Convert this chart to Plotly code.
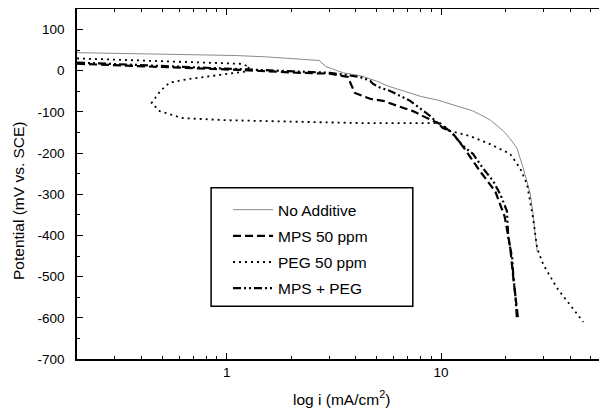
import plotly.graph_objects as go

# ---- data (current density mA/cm^2, potential mV vs SCE) ----
no_add_i = [0.2, 0.5, 1.1, 1.5, 2.2, 2.7, 2.9, 3.5, 4.2, 5.0, 5.65, 6.64, 8.0, 9.6,
            11.9, 14.0, 15.7, 17.0, 19.5, 21.0, 22.6, 24.2, 26.1, 26.9, 27.5, 28.1]
no_add_mv = [44, 41, 37, 34, 29, 25, 10, -5, -12, -25, -37, -49, -62, -71,
             -85, -97, -110, -120, -146, -165, -188, -237, -300, -349, -400, -440]

mps_i = [0.2, 0.49, 1.15, 2.19, 3.03, 3.67, 3.84, 3.96, 4.66, 5.36, 6.23, 7.39, 8.6, 9.89,
         11.3, 12.9, 15.2, 17.9, 19.8, 21.0, 21.7, 22.4, 22.9]
mps_mv = [17, 10, 2, -5, -7, -15, -37, -54, -68, -73, -85, -98, -115, -129,
          -151, -190, -244, -293, -354, -427, -500, -561, -605]

peg_i = [0.2, 0.49, 1.15, 1.28, 1.21, 1.03, 0.85, 0.66, 0.54, 0.49, 0.446, 0.486, 0.62,
         1.0, 2.19, 4.18, 9.89, 11.0, 13.7, 16.9, 21.0, 23.4, 25.2, 26.1, 26.9, 28.1,
         30.0, 34.9, 40.1, 46.1]
peg_mv = [30, 24, 17, 10, -2, -7, -12, -20, -29, -49, -78, -98, -115,
          -120, -124, -127, -127, -146, -159, -178, -202, -237, -276, -317, -359, -432,
          -471, -529, -568, -610]

mpspeg_i = [0.2, 0.49, 1.15, 2.19, 3.03, 4.18, 4.66, 4.82, 5.2, 5.78, 7.17, 8.9, 10.2,
            11.0, 12.7, 14.1, 15.7, 17.5, 18.9, 20.3, 20.6, 21.5, 21.7, 22.2, 22.6]
mpspeg_mv = [20, 12, 5, -2, -5, -15, -24, -32, -41, -49, -73, -110, -139,
             -146, -183, -202, -237, -268, -300, -341, -407, -456, -495, -544, -602]

names = ["No Additive", "MPS 50 ppm", "PEG 50 ppm", "MPS + PEG"]

y_ticks = [-700, -600, -500, -400, -300, -200, -100, 0, 100]
y_minor = [-650, -550, -450, -350, -250, -150, -50, 50]
x_ticks = [1, 10]
x_minor = [0.2, 0.3, 0.4, 0.5, 0.6, 0.7, 0.8, 0.9, 2, 3, 4, 5, 6, 7, 8, 9,
           20, 30, 40, 50]

FONT = "Arial, Liberation Sans, Helvetica, sans-serif"

fig = go.Figure()
fig.add_trace(go.Scatter(x=no_add_i, y=no_add_mv, mode="lines", name=names[0],
                         legendgroup="a",
                         line=dict(color="#8a8a8a", width=1)))
fig.add_trace(go.Scatter(x=mps_i, y=mps_mv, mode="lines", name=names[1],
                         legendgroup="b",
                         line=dict(color="black", width=2.2, dash="8px,4px")))
fig.add_trace(go.Scatter(x=peg_i, y=peg_mv, mode="lines", name=names[2],
                         legendgroup="c",
                         line=dict(color="black", width=1.8, dash="2px,4px")))
fig.add_trace(go.Scatter(x=mpspeg_i, y=mpspeg_mv, mode="lines", name=names[3],
                         legendgroup="d",
                         line=dict(color="black", width=2.2,
                                   dash="8px,3px,2px,3px,2px,3px")))

axis_common = dict(showline=True, linecolor="black", linewidth=1.5, mirror="ticks",
                   ticks="inside", tickcolor="black", tickwidth=1.2, ticklen=6,
                   showgrid=False, zeroline=False,
                   tickfont=dict(family=FONT, size=13.5, color="black"))

fig.update_xaxes(type="log", range=[-0.699, 1.765],
                 tickmode="array", tickvals=x_ticks, ticktext=["1", "10"],
                 minor=dict(tickmode="array", tickvals=x_minor, ticks="inside",
                            ticklen=3, tickcolor="black", tickwidth=1, showgrid=False),
                 ticklabelstandoff=0,
                 **axis_common)
fig.update_yaxes(range=[-700, 150],
                 tickmode="array", tickvals=y_ticks,
                 ticktext=[str(v) for v in y_ticks],
                 minor=dict(tickmode="array", tickvals=y_minor, ticks="inside",
                            ticklen=3, tickcolor="black", tickwidth=1, showgrid=False),
                 ticklabelstandoff=8,
                 **axis_common)

# the page body has an 8px default margin, so the figure is sized to fit inside it
fig.update_layout(
    width=599, height=405,
    margin=dict(l=69, r=2, t=1, b=54, autoexpand=False),
    paper_bgcolor="white", plot_bgcolor="white",
    font=dict(family=FONT, color="black"),
    legend=dict(x=0.286, y=0.474, xanchor="left", yanchor="top",
                bgcolor="rgba(0,0,0,0)", borderwidth=0,
                font=dict(family=FONT, size=15.5, color="black"),
                tracegroupgap=3, itemwidth=40),
    shapes=[dict(type="rect", xref="paper", yref="paper",
                 x0=0.254, x1=0.636, y0=0.151, y1=0.489,
                 line=dict(color="black", width=1.5), fillcolor="white",
                 layer="below")],
    annotations=[
        dict(text="log i (mA/cm<sup>2</sup>)", xref="paper", yref="paper",
             x=0.5, y=-0.076, xanchor="center", yanchor="top", showarrow=False,
             font=dict(family=FONT, size=15.5, color="black")),
        dict(text="Potential (mV vs. SCE)", xref="paper", yref="paper",
             x=-0.112, y=0.454, xanchor="center", yanchor="middle", textangle=-90,
             showarrow=False, font=dict(family=FONT, size=15.5, color="black")),
    ],
)

fig.write_html("out.html")
